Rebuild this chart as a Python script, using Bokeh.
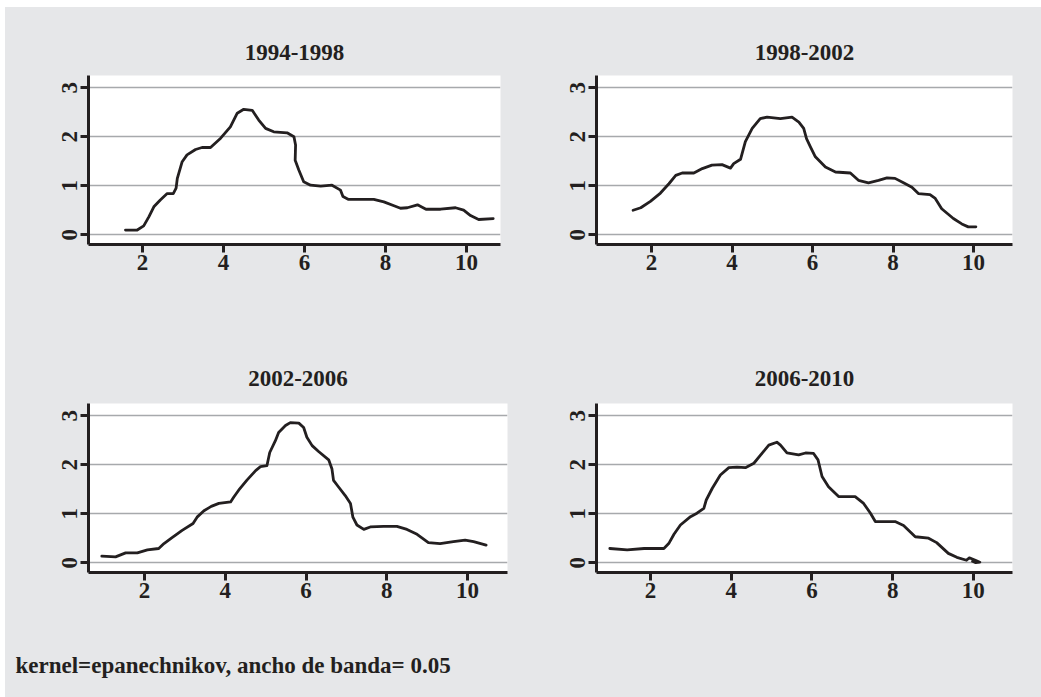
import math
from bokeh.plotting import figure
from bokeh.layouts import column, row
from bokeh.models import FixedTicker, Label, Range1d, Spacer
from bokeh.embed import file_html
from bokeh.resources import INLINE

# ---------------- data ----------------
periods = ["1994-1998", "1998-2002", "2002-2006", "2006-2010"]

x_9498 = [1.58, 1.87, 2.03, 2.16, 2.28, 2.44, 2.61, 2.76, 2.83, 2.86, 2.98, 3.10, 3.31, 3.47,
          3.68, 3.93, 4.17, 4.34, 4.50, 4.71, 4.87, 5.04, 5.24, 5.57, 5.74, 5.78, 5.77, 5.86,
          5.98, 6.15, 6.40, 6.68, 6.89, 6.95, 7.09, 7.71, 7.96, 8.21, 8.37, 8.54, 8.79, 9.00,
          9.36, 9.73, 9.93, 10.10, 10.30, 10.66]
y_9498 = [0.095, 0.095, 0.18, 0.37, 0.57, 0.71, 0.84, 0.84, 0.95, 1.15, 1.49, 1.63, 1.74, 1.78,
          1.78, 1.97, 2.20, 2.48, 2.56, 2.54, 2.34, 2.17, 2.10, 2.08, 2.00, 1.83, 1.52, 1.32,
          1.08, 1.01, 0.99, 1.01, 0.91, 0.78, 0.72, 0.72, 0.67, 0.59, 0.54, 0.55, 0.61, 0.52,
          0.52, 0.55, 0.50, 0.39, 0.31, 0.33]

x_9802 = [1.54, 1.73, 1.97, 2.22, 2.43, 2.60, 2.76, 3.05, 3.26, 3.50, 3.75, 3.96, 4.04, 4.21,
          4.33, 4.50, 4.70, 4.87, 5.20, 5.49, 5.66, 5.78, 5.85, 5.95, 6.07, 6.32, 6.57, 6.94,
          7.14, 7.39, 7.64, 7.85, 8.05, 8.26, 8.47, 8.63, 8.92, 9.05, 9.21, 9.50, 9.71, 9.87,
          10.06]
y_9802 = [0.50, 0.55, 0.68, 0.85, 1.04, 1.21, 1.26, 1.26, 1.35, 1.42, 1.43, 1.36, 1.45, 1.54,
          1.90, 2.17, 2.37, 2.40, 2.37, 2.40, 2.30, 2.17, 1.96, 1.79, 1.59, 1.38, 1.28, 1.26,
          1.11, 1.06, 1.11, 1.16, 1.15, 1.06, 0.97, 0.84, 0.82, 0.74, 0.53, 0.33, 0.22, 0.16,
          0.16]

x_0206 = [0.94, 1.28, 1.53, 1.82, 2.07, 2.35, 2.48, 2.68, 2.93, 3.20, 3.30, 3.47, 3.59, 3.65,
          3.84, 4.13, 4.21, 4.33, 4.54, 4.75, 4.87, 5.03, 5.10, 5.24, 5.32, 5.49, 5.61, 5.82,
          5.94, 6.02, 6.15, 6.31, 6.56, 6.64, 6.68, 6.81, 6.97, 7.10, 7.16, 7.26, 7.43, 7.59,
          7.92, 8.25, 8.50, 8.75, 9.03, 9.32, 9.65, 9.94, 10.15, 10.46]
y_0206 = [0.135, 0.12, 0.20, 0.20, 0.26, 0.29, 0.39, 0.51, 0.66, 0.80, 0.93, 1.06, 1.12, 1.15,
          1.21, 1.24, 1.34, 1.48, 1.69, 1.88, 1.96, 1.98, 2.25, 2.49, 2.66, 2.80, 2.86, 2.85,
          2.76, 2.56, 2.39, 2.27, 2.10, 1.92, 1.68, 1.54, 1.37, 1.21, 0.93, 0.77, 0.68, 0.73,
          0.74, 0.74, 0.68, 0.58, 0.41, 0.39, 0.43, 0.46, 0.43, 0.36]

x_0610 = [0.99, 1.42, 1.84, 2.33, 2.45, 2.58, 2.74, 2.99, 3.15, 3.32, 3.38, 3.53, 3.73, 3.94,
          4.14, 4.35, 4.56, 4.73, 4.93, 5.13, 5.22, 5.38, 5.67, 5.84, 6.04, 6.15, 6.25, 6.41,
          6.66, 7.07, 7.28, 7.45, 7.57, 8.06, 8.27, 8.56, 8.89, 9.09, 9.38, 9.59, 9.83, 9.90,
          10.05, 10.16, 10.06, 9.98]
y_0610 = [0.29, 0.26, 0.29, 0.29, 0.39, 0.58, 0.77, 0.94, 1.01, 1.11, 1.28, 1.52, 1.79, 1.94,
          1.95, 1.94, 2.03, 2.20, 2.40, 2.46, 2.40, 2.24, 2.20, 2.24, 2.23, 2.10, 1.76, 1.55,
          1.35, 1.35, 1.21, 1.01, 0.84, 0.84, 0.76, 0.53, 0.50, 0.41, 0.19, 0.11, 0.05, 0.10,
          0.05, 0.01, 0.00, 0.03]

x_ticks = [2, 4, 6, 8, 10]
y_ticks = [0, 1, 2, 3]
footer_text = "kernel=epanechnikov, ancho de banda= 0.05"

# ---------------- style ----------------
BG = "#e6e7e9"
INK = "#231f20"
GRID = "#a7a9ac"
FONT = "Liberation Serif"
FS = "23px"


def panel(title, xs, ys, width, height, left, right, top, bottom, xr, yr, title_standoff):
    p = figure(width=width, height=height, title=title,
               x_range=Range1d(*xr), y_range=Range1d(*yr),
               output_backend="svg", toolbar_location=None,
               min_border_left=left, min_border_right=right,
               min_border_top=top, min_border_bottom=bottom)
    p.background_fill_color = "white"
    p.border_fill_color = BG
    p.outline_line_color = None

    p.title.align = "center"
    p.title.text_font = FONT
    p.title.text_font_style = "bold"
    p.title.text_font_size = FS
    p.title.text_color = INK
    p.title.standoff = title_standoff

    p.xaxis.ticker = FixedTicker(ticks=x_ticks)
    p.yaxis.ticker = FixedTicker(ticks=y_ticks)
    for ax in (p.xaxis[0], p.yaxis[0]):
        ax.axis_line_color = INK
        ax.axis_line_width = 3
        ax.major_tick_line_color = INK
        ax.major_tick_line_width = 3
        ax.major_tick_out = 8
        ax.major_tick_in = 0
        ax.minor_tick_line_color = None
        ax.major_label_text_font = FONT
        ax.major_label_text_font_style = "bold"
        ax.major_label_text_font_size = FS
        ax.major_label_text_color = INK
    p.xaxis.major_label_standoff = 2
    p.yaxis.major_label_standoff = 3
    p.yaxis.major_label_orientation = "vertical"

    p.xgrid.visible = False
    p.ygrid.grid_line_color = GRID
    p.ygrid.grid_line_width = 1.6

    p.line(xs, ys, line_color=INK, line_width=2.8, line_join="round", line_cap="round")
    return p


p1 = panel(periods[0], x_9498, y_9498, 543, 323, 83, 48, 68, 86, (0.667, 10.84), (-0.2, 3.25), 31)
p2 = panel(periods[1], x_9802, y_9802, 493, 323, 48, 29, 68, 86, (0.63, 10.97), (-0.2, 3.25), 31)
p3 = panel(periods[2], x_0206, y_0206, 543, 290, 83, 41, 73, 48, (0.61, 10.99), (-0.2, 3.25), 36)
p4 = panel(periods[3], x_0610, y_0610, 493, 290, 48, 29, 73, 48, (0.66, 10.97), (-0.2, 3.25), 36)

foot = figure(width=1036, height=77, x_range=Range1d(0, 1036), y_range=Range1d(0, 77),
              output_backend="svg", toolbar_location=None,
              x_axis_location=None, y_axis_location=None,
              min_border=0)
foot.background_fill_color = BG
foot.border_fill_color = BG
foot.outline_line_color = None
foot.grid.visible = False
foot.add_layout(Label(x=10, y=32, text=footer_text, text_font=FONT, text_font_style="bold",
                      text_font_size="23px", text_color=INK, text_baseline="middle"))

bgstyle = {"background-color": BG}
content = column(row(p1, p2, spacing=0, styles=bgstyle),
                 row(p3, p4, spacing=0, styles=bgstyle),
                 foot, spacing=0, styles=bgstyle)
layout = column(Spacer(width=1036, height=7),
                row(Spacer(width=5, height=690), content, spacing=0),
                spacing=0)

with open("out.html", "w") as f:
    f.write(file_html(layout, INLINE))
